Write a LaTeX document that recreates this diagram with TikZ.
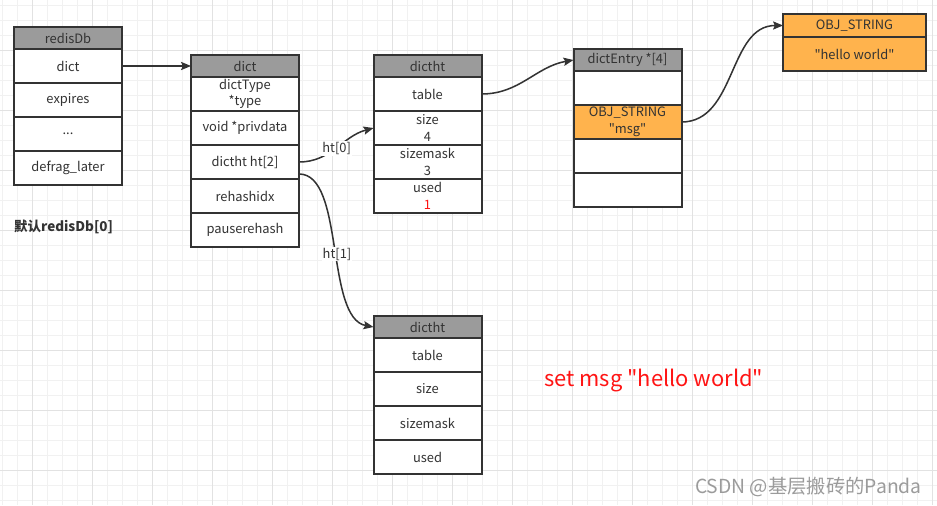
\documentclass[tikz,border=0pt]{standalone}
\usepackage{fontspec}
\setmainfont{Noto Sans CJK SC}[Ligatures=TeXOff]
\usetikzlibrary{arrows.meta}
\definecolor{boxline}{HTML}{333333}
\definecolor{headgrey}{HTML}{9B9B9B}
\definecolor{strorange}{HTML}{FFB34D}
\definecolor{gridminor}{HTML}{F1F1F1}
\definecolor{gridmajor}{HTML}{E2E2E2}
\definecolor{cmdred}{HTML}{FF1414}
\newcommand{\dq}{\char34\relax}
\begin{document}
\begin{tikzpicture}[x=0.03cm, y=-0.03cm,
    cell/.style={draw=boxline, line width=1.7pt, fill=white, minimum width=3.24cm,
      minimum height=1.02cm, inner sep=0pt, outer sep=0pt, align=center,
      text=boxline, font=\fontsize{11}{14}\selectfont},
    headcell/.style={cell, fill=headgrey, minimum height=0.66cm},
    strcell/.style={cell, fill=strorange},
    link/.style={draw=boxline, line width=1.3pt,
      -{Stealth[length=8.5pt, width=7pt, inset=1.5pt]}},
    htlabel/.style={fill=white, inner sep=1pt, text=boxline,
      font=\fontsize{11}{12}\selectfont}]
    \useasboundingbox (0,0) rectangle (937,505);
    \fill[white] (0,0) rectangle (937,505);
    % grid
    \foreach \gx in {2,17,...,932} \draw[gridminor, line width=0.6pt] (\gx,0) -- (\gx,505);
    \foreach \gy in {5,20,...,500} \draw[gridminor, line width=0.6pt] (0,\gy) -- (937,\gy);
    \foreach \gx in {32,92,...,932} \draw[gridmajor, line width=0.6pt] (\gx,0) -- (\gx,505);
    \foreach \gy in {50,110,...,470} \draw[gridmajor, line width=0.6pt] (0,\gy) -- (937,\gy);
    % redisDb
    \node[headcell] (db) at (68,38) {redisDb};
    \node[cell] (dbdict) at (68,66) {dict};
    \node[cell] (dbexp) at (68,100) {expires};
    \node[cell] (dbdots) at (68,134) {...};
    \node[cell] (dbdefrag) at (68,168) {defrag\_later};
    \node[anchor=west, inner sep=0pt, text=boxline, font=\fontsize{11.5}{13}\selectfont\bfseries]
      (dblabel) at (14,227) {默认redisDb[0]};
    % dict
    \node[headcell] (dict) at (245,66) {dict};
    \node[cell] (dtype) at (245,94) {dictType\\*type};
    \node[cell] (dpriv) at (245,128) {void *privdata};
    \node[cell] (dht) at (245,162) {dictht ht[2]};
    \node[cell] (drehash) at (245,196) {rehashidx};
    \node[cell] (dpause) at (245,230) {pauserehash};
    % dictht ht[0]
    \node[headcell] (hta) at (427.5,66) {dictht};
    \node[cell] (htatable) at (427.5,94) {table};
    \node[cell] (htasize) at (427.5,128) {size\\4};
    \node[cell] (htamask) at (427.5,162) {sizemask\\3};
    \node[cell] (htaused) at (427.5,196) {used\\\textcolor{cmdred}{1}};
    % dictht ht[1]
    \node[headcell] (htb) at (427.5,327) {dictht};
    \node[cell] (htbtable) at (427.5,355) {table};
    \node[cell] (htbsize) at (427.5,389) {size};
    \node[cell] (htbmask) at (427.5,423) {sizemask};
    \node[cell] (htbused) at (427.5,457) {used};
    % dictEntry table
    \node[headcell] (ent) at (627.5,60) {dictEntry *[4]};
    \node[cell] (enta) at (627.5,88) {};
    \node[strcell] (entmsg) at (627.5,122) {OBJ\_STRING\\\dq msg\dq};
    \node[cell] (entc) at (627.5,156) {};
    \node[cell] (entd) at (627.5,190) {};
    % value object
    \node[strcell, minimum width=4.29cm, minimum height=0.69cm] (val) at (854.5,25.5) {OBJ\_STRING};
    \node[strcell, minimum width=4.29cm] (valstr) at (854.5,54) {\dq hello world\dq};
    % pointers
    \draw[link] (dbdict.east) -- (dict.west);
    \draw[link] (dht.east) to[out=0, in=195] node[htlabel, pos=0.5] (lbla) {ht[0]} (htasize.west);
    \draw[link] (dht.east) ++(0,12) .. controls (345,174) and (325,318) .. (htb.west);
    \node[htlabel] (lblb) at (337,254) {ht[1]};
    \draw[link] (htatable.east) to[out=0, in=190] (ent.west);
    \draw[link] (entmsg.east) to[out=0, in=180] (val.west);
    % command
    \node[anchor=west, inner sep=0pt, text=cmdred, font=\fontsize{18.7}{21}\selectfont] (cmd) at (544,381) {set msg \dq hello world\dq};
    \node[anchor=east, inner sep=0pt, text=headgrey, font=\fontsize{16.5}{18}\selectfont] (mark) at (922,487) {CSDN @基层搬砖的Panda};
\end{tikzpicture}
\end{document}
